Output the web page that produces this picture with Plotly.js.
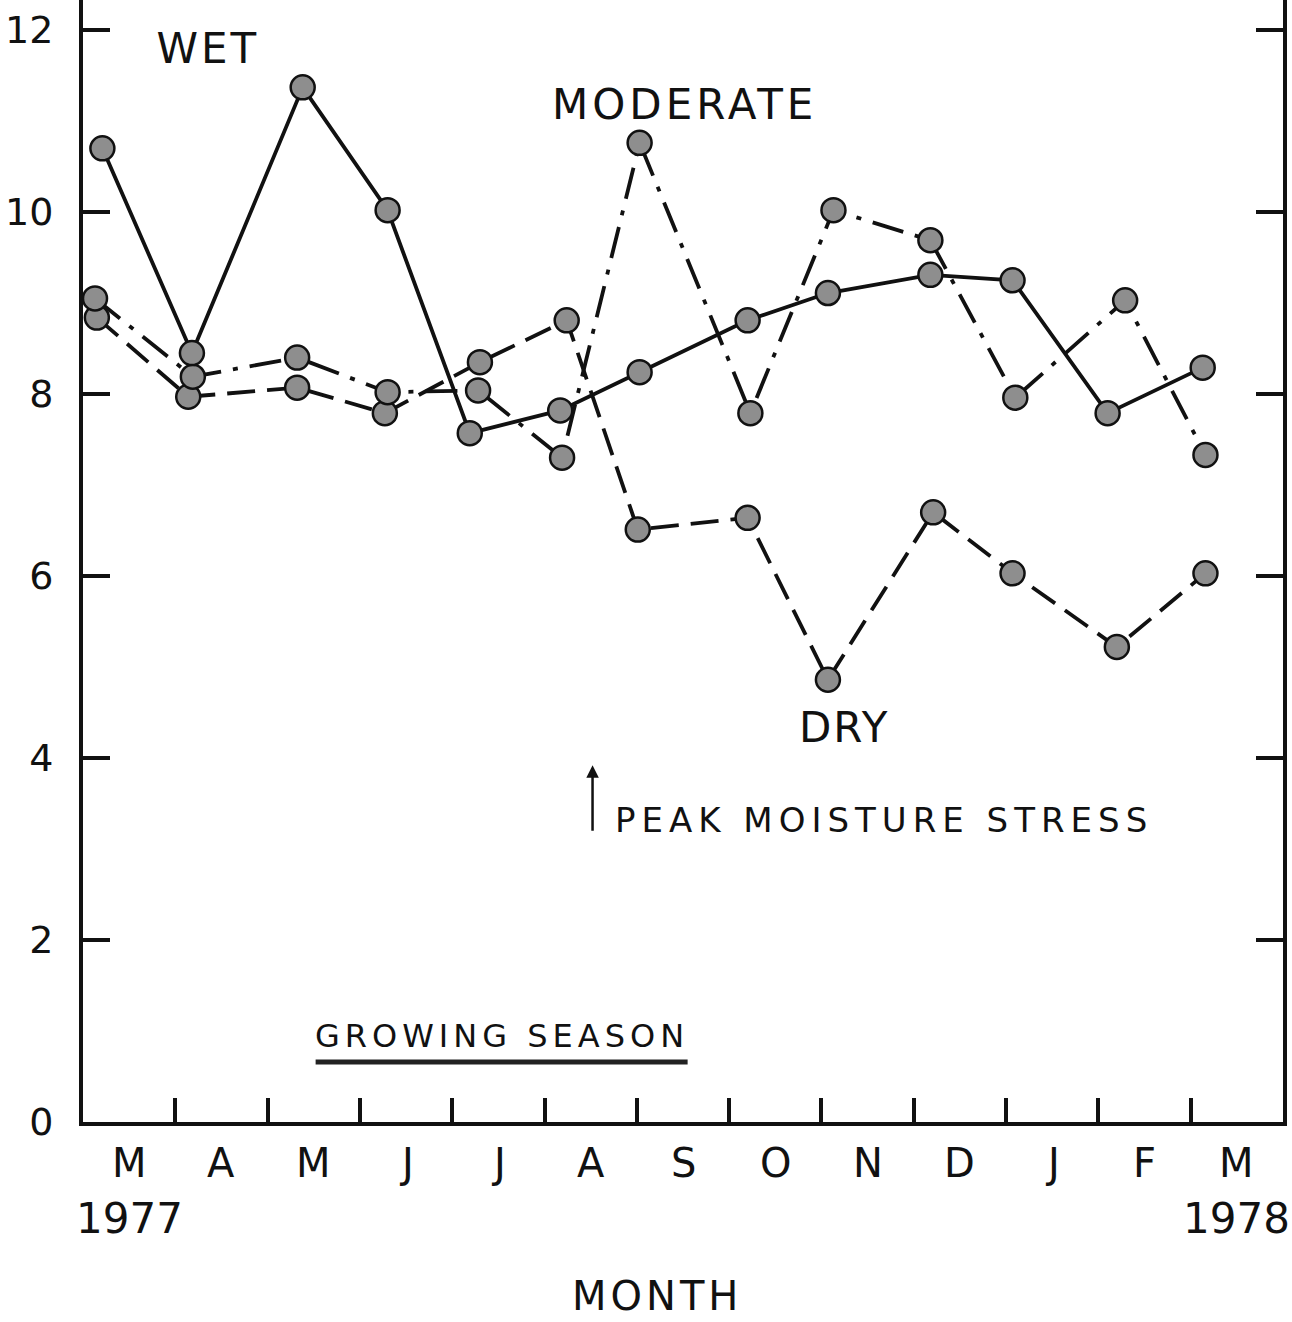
<!DOCTYPE html>
<html>
<head>
<meta charset="utf-8">
<script src="https://cdn.plot.ly/plotly-3.0.1.min.js"></script>
<style>
html,body{margin:0;padding:0;background:#fff;}
#chart{width:1292px;height:1322px;}
</style>
</head>
<body>
<div id="chart"></div>
<script>
// ---- data (x = months since 1 March 1977) ----
const monthLabels = ['M','A','M','J','J','A','S','O','N','D','J','F','M'];
const monthBoundaries = [1,2,3,4,5,6,7,8,9,10,11,12];
const yearLabels = ['1977','1978'];
const yTicks = [0,2,4,6,8,10,12];

const wetMonth = [0.21,1.18,2.38,3.30,4.19,5.17,6.03,7.20,8.07,9.18,10.07,11.10,12.13];
const wetValue = [10.70,8.45,11.37,10.02,7.57,7.82,8.24,8.81,9.11,9.31,9.25,7.79,8.29];

const moderateMonth = [0.13,1.19,2.32,3.30,4.28,5.19,6.03,7.23,8.13,9.18,10.10,11.29,12.16];
const moderateValue = [9.05,8.19,8.40,8.02,8.04,7.30,10.76,7.79,10.02,9.69,7.96,9.03,7.33];

const dryMonth = [0.15,1.14,2.32,3.27,4.30,5.24,6.01,7.20,8.07,9.21,10.07,11.20,12.16];
const dryValue = [8.84,7.97,8.07,7.79,8.35,8.81,6.51,6.64,4.86,6.70,6.03,5.22,6.03];

const growingSeason = [2.52, 6.55];
const peakStressMonth = [5.52];

// ---- styles ----
const FONT = 'DejaVu Sans, Liberation Sans, sans-serif';
const INK = '#111111';
const marker = {symbol:'circle', size:24, color:'#8e8e8e', line:{color:INK, width:2.5}};

const traces = [
  {x:dryMonth, y:dryValue, name:'DRY', type:'scatter', mode:'lines+markers',
   line:{color:INK, width:3.8, dash:'28px,12px'}, marker:marker, cliponaxis:false},
  {x:moderateMonth, y:moderateValue, name:'MODERATE', type:'scatter', mode:'lines+markers',
   line:{color:INK, width:3.8, dash:'32px,12px,5px,12px'}, marker:marker, cliponaxis:false},
  {x:wetMonth, y:wetValue, name:'WET', type:'scatter', mode:'lines+markers',
   line:{color:INK, width:3.8}, marker:marker, cliponaxis:false}
];

const annotations = [];
monthLabels.forEach((m,i)=>{
  annotations.push({text:m, x:i+0.5, xref:'x', y:-0.0365, yref:'paper',
    xanchor:'center', yanchor:'middle', showarrow:false, font:{family:FONT, size:40, color:INK}});
});
annotations.push({text:yearLabels[0], x:0.5, xref:'x', y:-0.0856, yref:'paper',
  xanchor:'center', yanchor:'middle', showarrow:false, font:{family:FONT, size:42, color:INK}});
annotations.push({text:yearLabels[1], x:monthLabels.length-0.5, xref:'x', y:-0.0856, yref:'paper',
  xanchor:'center', yanchor:'middle', showarrow:false, font:{family:FONT, size:42, color:INK}});
annotations.push({text:'MONTH', x:0.478, xref:'paper', y:-0.1555, yref:'paper',
  xanchor:'center', yanchor:'middle', showarrow:false, font:{family:FONT, size:40, color:INK}});

annotations.push({text:'WET', x:1.35, xref:'x', y:11.80, yref:'y',
  xanchor:'center', yanchor:'middle', showarrow:false, font:{family:FONT, size:42, color:INK}});
annotations.push({text:'MODERATE', x:6.52, xref:'x', y:11.18, yref:'y',
  xanchor:'center', yanchor:'middle', showarrow:false, font:{family:FONT, size:42, color:INK}});
annotations.push({text:'DRY', x:8.25, xref:'x', y:4.33, yref:'y',
  xanchor:'center', yanchor:'middle', showarrow:false, font:{family:FONT, size:42, color:INK}});
annotations.push({text:'PEAK MOISTURE STRESS', x:8.68, xref:'x', y:3.32, yref:'y',
  xanchor:'center', yanchor:'middle', showarrow:false, font:{family:FONT, size:34, color:INK}});
annotations.push({text:'', x:peakStressMonth[0], xref:'x', y:3.92, yref:'y',
  showarrow:true, ax:0, ay:67, arrowhead:2, arrowsize:1, arrowwidth:2.5, arrowcolor:INK, standoff:0});
annotations.push({text:'GROWING SEASON', x:(growingSeason[0]+growingSeason[1])/2, xref:'x', y:0.945, yref:'y',
  xanchor:'center', yanchor:'middle', showarrow:false, font:{family:FONT, size:32, color:INK}});

const shapes = [
  {type:'line', xref:'x', yref:'y', x0:growingSeason[0], x1:growingSeason[1], y0:0.66, y1:0.66,
   line:{color:'#222', width:5}}
];

const layout = {
  width:1292, height:1322,
  margin:{l:83, r:9, t:0, b:200, pad:0},
  paper_bgcolor:'#ffffff', plot_bgcolor:'#ffffff',
  showlegend:false,
  xaxis:{range:[0,13], tickmode:'array', tickvals:monthBoundaries, showticklabels:false,
    ticks:'inside', ticklen:24, tickwidth:4, tickcolor:INK,
    showline:true, linecolor:INK, linewidth:4, mirror:false, showgrid:false, zeroline:false},
  yaxis:{range:[0,12.33], tickmode:'array', tickvals:yTicks, ticktext:yTicks.map(String),
    ticks:'inside', ticklen:27, tickwidth:3.5, tickcolor:INK, ticklabelstandoff:18,
    tickfont:{family:FONT, size:38, color:INK},
    showline:true, linecolor:INK, linewidth:4, mirror:'ticks', showgrid:false, zeroline:false},
  annotations:annotations,
  shapes:shapes
};

const letterSpacing = {'WET':3, 'MODERATE':4, 'DRY':2, 'PEAK MOISTURE STRESS':6, 'GROWING SEASON':5, 'MONTH':4};

Plotly.newPlot('chart', traces, layout, {staticPlot:true}).then(gd=>{
  gd.querySelectorAll('.annotation-text').forEach(t=>{
    const s = letterSpacing[t.textContent];
    if (s) t.style.letterSpacing = s + 'px';
  });
});
</script>
</body>
</html>
